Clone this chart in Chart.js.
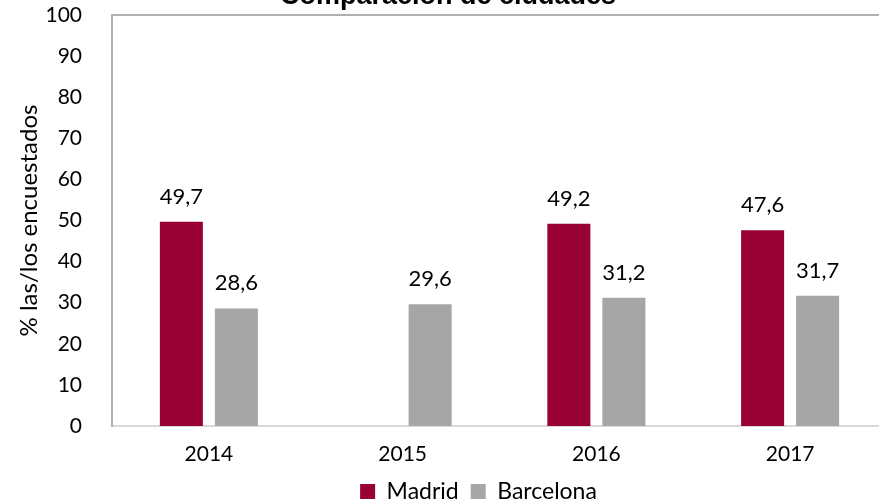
<!DOCTYPE html>
<html>
<head>
<meta charset="utf-8">
<script src="https://cdn.jsdelivr.net/npm/chart.js@4"></script>
<style>
  html, body { margin: 0; padding: 0; background: #fff; overflow: hidden; }
  #wrap { width: 879px; height: 502px; overflow: hidden; }
</style>
</head>
<body>
<div id="wrap"><canvas id="chart" width="889" height="502"></canvas></div>
<script>
const years = ['2014', '2015', '2016', '2017'];
const madrid = [49.7, null, 49.2, 47.6];
const barcelona = [28.6, 29.6, 31.2, 31.7];
const yTicks = [0, 10, 20, 30, 40, 50, 60, 70, 80, 90, 100];

const FONT = "Lato, 'Open Sans', sans-serif";

// Title (cut off at the top in the original), top frame line and value labels
const decorPlugin = {
    id: 'decor',
    afterLayout(chart) {
        // legend in the original sits a bit right of the canvas centre
        if (chart.legend) {
            chart.legend.left += 35;
            chart.legend.right += 35;
        }
    },
    afterDraw(chart) {
        const ctx = chart.ctx;
        const a = chart.chartArea;
        ctx.save();
        ctx.strokeStyle = '#B0B0B0';
        ctx.lineWidth = 2;
        ctx.beginPath();
        ctx.moveTo(a.left - 1, a.top);
        ctx.lineTo(chart.width, a.top);
        ctx.stroke();

        ctx.fillStyle = '#000';
        ctx.font = "bold 27px 'Liberation Sans', Arial, sans-serif";
        ctx.textAlign = 'center';
        ctx.textBaseline = 'alphabetic';
        ctx.fillText('Comparación de ciudades', 448, 4);

        ctx.font = '22px ' + FONT;
        chart.data.datasets.forEach((ds, i) => {
            const meta = chart.getDatasetMeta(i);
            meta.data.forEach((bar, j) => {
                const v = ds.data[j];
                if (v == null) return;
                ctx.fillText(v.toFixed(1).replace('.', ','), bar.x, bar.y - 18);
            });
        });
        ctx.restore();
    }
};

new Chart(document.getElementById('chart'), {
    type: 'bar',
    data: {
        labels: years,
        datasets: [
            { label: 'Madrid', data: madrid, backgroundColor: '#990033' },
            { label: 'Barcelona', data: barcelona, backgroundColor: '#A6A6A6' }
        ]
    },
    options: {
        responsive: false,
        animation: false,
        categoryPercentage: 0.568,
        barPercentage: 0.782,
        layout: { padding: { top: 15, right: 2, left: 0, bottom: -11 } },
        scales: {
            x: {
                afterFit(axis) { axis.height = 42; },
                grid: { display: false },
                border: { color: '#D9D9D9', width: 2 },
                ticks: { color: '#000', font: { family: FONT, size: 21 }, padding: 8 }
            },
            y: {
                min: 0,
                max: 100,
                afterBuildTicks(axis) { axis.ticks = yTicks.map(v => ({ value: v })); },
                afterFit(axis) {
                    axis.width = 112;
                    axis.paddingTop = 0;
                    axis.paddingBottom = 0;
                },
                grid: { display: false },
                border: { color: '#B0B0B0', width: 2 },
                ticks: { color: '#000', font: { family: FONT, size: 21 }, padding: 22 },
                title: {
                    display: true,
                    text: '% las/los encuestados',
                    color: '#000',
                    font: { family: FONT, size: 24 },
                    padding: { top: 15, bottom: 0 }
                }
            }
        },
        plugins: {
            title: { display: false },
            tooltip: { enabled: false },
            legend: {
                position: 'bottom',
                labels: {
                    color: '#000',
                    font: { family: FONT, size: 23 },
                    boxWidth: 15,
                    boxHeight: 15,
                    padding: 12
                }
            }
        }
    },
    plugins: [decorPlugin]
});
</script>
</body>
</html>
